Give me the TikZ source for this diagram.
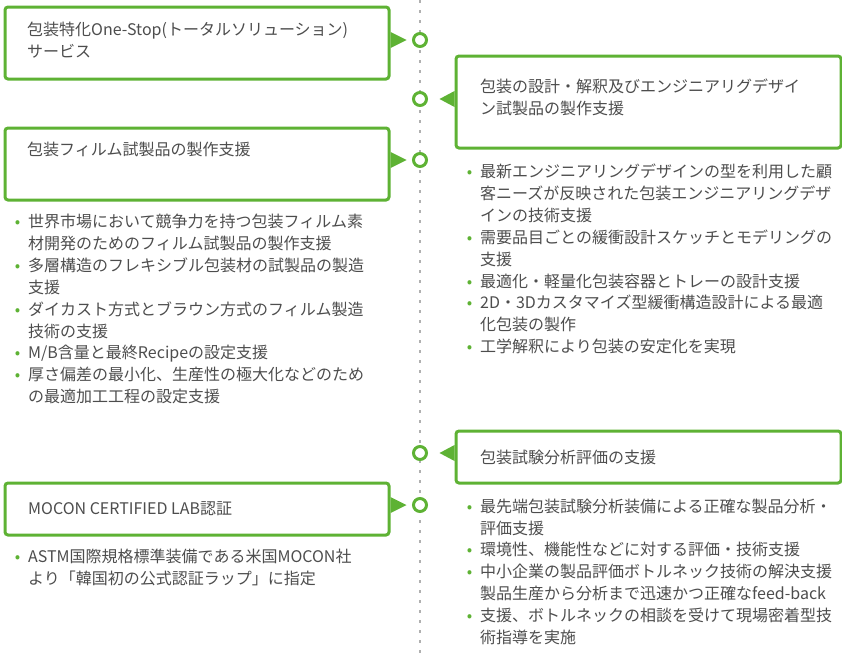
\documentclass[tikz,border=0pt]{standalone}
\usepackage{fontspec}
\setmainfont{Noto Sans CJK JP}
\usetikzlibrary{calc}
\definecolor{pkgGreen}{RGB}{94,178,52}
\definecolor{pkgText}{RGB}{77,77,77}
\definecolor{pkgDot}{RGB}{176,176,176}
\newcommand{\pkgbul}{\llap{\textcolor{pkgGreen}{•}\hspace{8pt}}}

\begin{document}
\begin{tikzpicture}[x=1pt, y=-1pt,
  box/.style={rectangle, rounded corners=3pt, draw=pkgGreen, fill=white,
              line width=3pt, inner sep=0pt, anchor=north west},
  ring/.style={circle, draw=pkgGreen, fill=white, line width=3pt,
               inner sep=0pt, minimum size=13pt},
  boxtitle/.style={anchor=base west, inner sep=0pt, align=left, text=pkgText,
                   font=\fontsize{16}{22}\selectfont},
  itemlist/.style={anchor=base west, inner sep=0pt, align=left, text=pkgText,
                   font=\fontsize{16}{21.9}\selectfont}]
  \useasboundingbox (0,0) rectangle (842,653);

  % timeline
  \coordinate (top) at (420,0);
  \coordinate (bottom) at (420,653);
  \draw[pkgDot, line width=2.5pt, dash pattern=on 2.5pt off 7.5pt] (top) -- (bottom);

  % boxes
  \node[box, minimum width=384pt, minimum height=72pt] (onestop) at (3.5,5.5) {};
  \node[box, minimum width=385pt, minimum height=92pt] (design) at (454.5,54.5) {};
  \node[box, minimum width=384pt, minimum height=72pt] (film) at (3.5,126.5) {};
  \node[box, minimum width=385pt, minimum height=52pt] (testing) at (454.5,429.5) {};
  \node[box, minimum width=384pt, minimum height=52pt] (mocon) at (3.5,481.5) {};

  % rings on the timeline
  \node[ring] (onestopRing) at (420,40) {};
  \node[ring] (designRing) at (420,99) {};
  \node[ring] (filmRing) at (420,160) {};
  \node[ring] (testingRing) at (420,453) {};
  \node[ring] (moconRing) at (420,505) {};

  % pointers
  \fill[pkgGreen] (onestop.east |- onestopRing) ++(0,-8) -- ++(16,8) -- ++(-16,8) -- cycle;
  \fill[pkgGreen] (design.west |- designRing) ++(0,-8) -- ++(-15,8) -- ++(15,8) -- cycle;
  \fill[pkgGreen] (film.east |- filmRing) ++(0,-8) -- ++(16,8) -- ++(-16,8) -- cycle;
  \fill[pkgGreen] (testing.west |- testingRing) ++(0,-8) -- ++(-15,8) -- ++(15,8) -- cycle;
  \fill[pkgGreen] (mocon.east |- moconRing) ++(0,-8) -- ++(16,8) -- ++(-16,8) -- cycle;

  % titles (placed at the baseline of their last line)
  \node[boxtitle] (onestopTitle) at (27,57) {包装特化One-Stop(トータルソリューション)\\サービス};
  \node[boxtitle] (designTitle) at (480,114) {包装の設計・解釈及びエンジニアリグデザイ\\ン試製品の製作支援};
  \node[boxtitle] (filmTitle) at (27,155.5) {包装フィルム試製品の製作支援};
  \node[boxtitle] (testingTitle) at (480,463) {包装試験分析評価の支援};
  \node[boxtitle] (moconTitle) at (28,514) {MOCON CERTIFIED LAB認証};

  % item lists (placed at the baseline of their last line)
  \node[itemlist] (filmList) at (28,402.7) {%
    \pkgbul 世界市場において競争力を持つ包装フィルム素\\
    材開発のためのフィルム試製品の製作支援\\
    \pkgbul 多層構造のフレキシブル包装材の試製品の製造\\
    支援\\
    \pkgbul ダイカスト方式とブラウン方式のフィルム製造\\
    技術の支援\\
    \pkgbul M/B含量と最終Recipeの設定支援\\
    \pkgbul 厚さ偏差の最小化、生産性の極大化などのため\\
    の最適加工工程の設定支援};
  \node[itemlist] (designList) at (480,352.7) {%
    \pkgbul 最新エンジニアリングデザインの型を利用した顧\\
    客ニーズが反映された包装エンジニアリングデザ\\
    インの技術支援\\
    \pkgbul 需要品目ごとの緩衝設計スケッチとモデリングの\\
    支援\\
    \pkgbul 最適化・軽量化包装容器とトレーの設計支援\\
    \pkgbul 2D・3Dカスタマイズ型緩衝構造設計による最適\\
    化包装の製作\\
    \pkgbul 工学解釈により包装の安定化を実現};
  \node[itemlist] (testingList) at (480,643.5) {%
    \pkgbul 最先端包装試験分析装備による正確な製品分析・\\
    評価支援\\
    \pkgbul 環境性、機能性などに対する評価・技術支援\\
    \pkgbul 中小企業の製品評価ボトルネック技術の解決支援\\
    製品生産から分析まで迅速かつ正確なfeed-back\\
    \pkgbul 支援、ボトルネックの相談を受けて現場密着型技\\
    術指導を実施};
  \node[itemlist] (moconList) at (28,584.4) {%
    \pkgbul ASTM国際規格標準装備である米国MOCON社\\
    より「韓国初の公式認証ラップ」に指定};
\end{tikzpicture}
\end{document}
